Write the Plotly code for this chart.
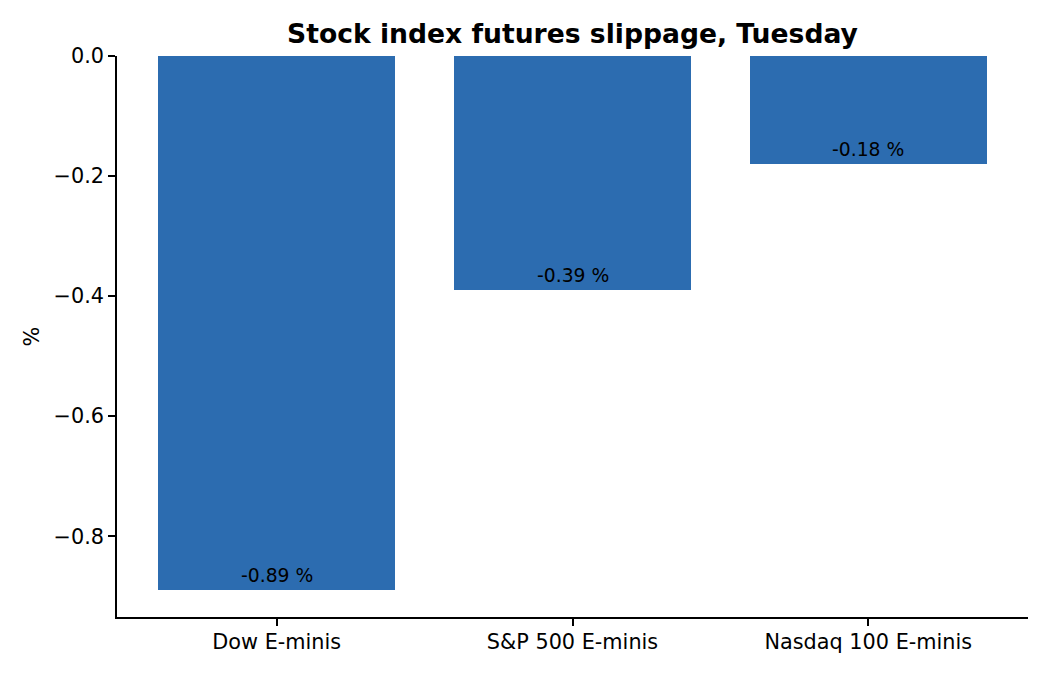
import plotly.graph_objects as go

categories = ["Dow E-minis", "S&P 500 E-minis", "Nasdaq 100 E-minis"]
values = [-0.89, -0.39, -0.18]
labels = [f"{v:.2f} %" for v in values]
title = "Stock index futures slippage, Tuesday"
y_label = "%"

bar_color = "#2c6cb0"
font_family = "DejaVu Sans"
tick_size = 20.8
label_size = 18.75
title_size = 26.6

W, H = 1042, 667  # page body has an 8px margin

fig = go.Figure()
fig.add_trace(go.Bar(
    x=list(range(len(categories))), y=values,
    width=0.8, marker=dict(color=bar_color, line=dict(width=0)),
    hoverinfo="skip",
))

for i, (v, lab) in enumerate(zip(values, labels)):
    fig.add_annotation(
        x=i, y=v, text=lab, showarrow=False,
        xanchor="center", yanchor="bottom", yshift=2,
        font=dict(family=font_family, size=label_size, color="black"),
    )

fig.add_annotation(
    x=0, y=0.5, xref="paper", yref="paper", text=y_label, showarrow=False,
    xanchor="center", yanchor="middle", xshift=-86, textangle=-90,
    font=dict(family=font_family, size=tick_size, color="black"),
)

fig.update_layout(
    width=W, height=H,
    margin=dict(l=109, r=22, t=48, b=58),
    paper_bgcolor="white", plot_bgcolor="white",
    showlegend=False,
    font=dict(family=font_family, size=tick_size, color="black"),
    title=dict(text=f"<b>{title}</b>", x=0.5, xref="paper", xanchor="center",
               y=1 - 26 / H, yanchor="middle",
               font=dict(family=font_family, size=title_size, color="black")),
    bargap=0,
)

fig.update_xaxes(
    range=[-0.54, 2.54],
    tickmode="array", tickvals=list(range(len(categories))), ticktext=categories,
    showgrid=False, zeroline=False,
    showline=True, linecolor="black", linewidth=1.6,
    ticks="outside", ticklen=7, tickwidth=1.6, tickcolor="black",
    ticklabelstandoff=-2,
    tickfont=dict(family=font_family, size=tick_size, color="black"),
)
fig.update_yaxes(
    range=[-0.9345, 0],
    tickmode="linear", tick0=0, dtick=0.2, tickformat=".1f",
    showgrid=False, zeroline=False,
    showline=True, linecolor="black", linewidth=1.6,
    ticks="outside", ticklen=7, tickwidth=1.6, tickcolor="black",
    tickfont=dict(family=font_family, size=tick_size, color="black"),
)

fig.write_html("out.html")
